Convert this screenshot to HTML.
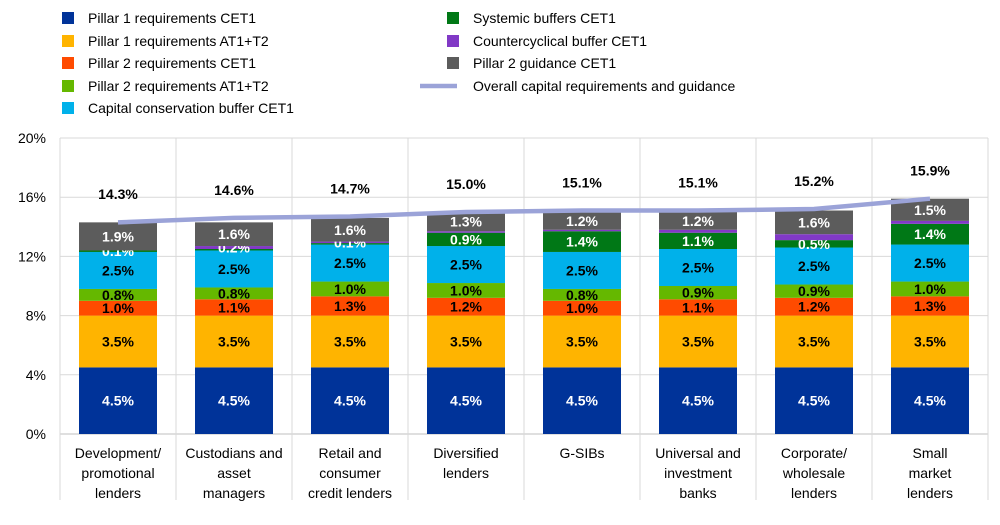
<!DOCTYPE html>
<html><head><meta charset="utf-8"><style>
body{margin:0;background:#fff;}
svg{display:block;font-family:"Liberation Sans",Arial,sans-serif;}
</style></head><body>
<svg id="chart" width="1000" height="525" viewBox="0 0 1000 525">
<g id="legend"></g>
<g id="grid"></g>
<g id="bars"></g>
<g id="line"></g>
<g id="axes"></g>
</svg>
<script>
const categories=[["Development/","promotional","lenders"],["Custodians and","asset","managers"],["Retail and","consumer","credit lenders"],["Diversified","lenders"],["G-SIBs"],["Universal and","investment","banks"],["Corporate/","wholesale","lenders"],["Small","market","lenders"]];
const seriesNames=["Pillar 1 requirements CET1","Pillar 1 requirements AT1+T2","Pillar 2 requirements CET1","Pillar 2 requirements AT1+T2","Capital conservation buffer CET1","Systemic buffers CET1","Countercyclical buffer CET1","Pillar 2 guidance CET1"];
const p1cet1=[4.5,4.5,4.5,4.5,4.5,4.5,4.5,4.5];
const p1at1=[3.5,3.5,3.5,3.5,3.5,3.5,3.5,3.5];
const p2cet1=[1.0,1.1,1.3,1.2,1.0,1.1,1.2,1.3];
const p2at1=[0.8,0.8,1.0,1.0,0.8,0.9,0.9,1.0];
const ccb=[2.5,2.5,2.5,2.5,2.5,2.5,2.5,2.5];
const systemic=[0.1,0.1,0.1,0.9,1.4,1.1,0.5,1.4];
const ccyb=[0.0,0.2,0.1,0.1,0.1,0.2,0.4,0.2];
const p2g=[1.9,1.6,1.6,1.3,1.2,1.2,1.6,1.5];
const overall=[14.3,14.6,14.7,15.0,15.1,15.1,15.2,15.9];
const showSystemic=[true,false,false,true,true,true,true,true];
const showCcyb=[false,true,true,false,false,false,false,false];
const yTicks=[0,4,8,12,16,20];
const series=[p1cet1,p1at1,p2cet1,p2at1,ccb,systemic,ccyb,p2g];
const colors=["#003399","#FFB400","#FF4B00","#65B800","#00B1EA","#007816","#8139C6","#5C5C5C"];
const txtColors=["#fff","#000","#000","#000","#000","#fff","#fff","#fff"];
const NS="http://www.w3.org/2000/svg";
const X0=60,X1=988,Y0=434,Y20=138;
const bw=(X1-X0)/categories.length;
const y=v=>Y0-(v/20)*(Y0-Y20);
const xc=i=>X0+bw*i+bw/2;
function mk(tag,attrs,parent,text){const e=document.createElementNS(NS,tag);for(const k in attrs)e.setAttribute(k,attrs[k]);if(text!==undefined)e.textContent=text;parent.appendChild(e);return e;}
const grid=document.getElementById('grid'),bars=document.getElementById('bars'),axes=document.getElementById('axes'),legend=document.getElementById('legend'),line=document.getElementById('line');
yTicks.forEach(t=>{
  const g=mk('line',{x1:X0,x2:X1,y1:y(t),y2:y(t),stroke:t===0?'#bfbfbf':'#d9d9d9','stroke-width':1},grid);
  
  
  const l=mk('text',{x:46,y:y(t)+5,'text-anchor':'end','font-size':14,fill:'#000'},axes,t+'%');
  
  
});
for(let i=0;i<=categories.length;i++){
  const v=mk('line',{x1:X0+bw*i,x2:X0+bw*i,y1:Y20,y2:500,stroke:'#d9d9d9','stroke-width':1},grid);
  
  
}
categories.forEach((c,i)=>{
  let base=0;const cx=xc(i);
  series.forEach((s,k)=>{
    const v=s[i];if(v<=0){return;}
    const r=mk('rect',{x:cx-39,width:78,y:y(base+v),height:y(base)-y(base+v),fill:colors[k]},bars);
    
    
    let show=true;
    if(k===5)show=showSystemic[i];
    if(k===6)show=showCcyb[i];
    if(show){
      const t=mk('text',{x:cx,y:(y(base)+y(base+v))/2+5,'text-anchor':'middle','font-size':14,'font-weight':'bold',fill:(k===5&&v<0.3)?'#fff':txtColors[k]},bars,v.toFixed(1)+'%');
      
      
    }
    base+=v;
  });
  const tl=mk('text',{x:cx,y:y(overall[i]+1.9)+5,'text-anchor':'middle','font-size':14,'font-weight':'bold',fill:'#000'},bars,overall[i].toFixed(1)+'%');
  
  
  c.forEach((ln,j)=>{
    const t=mk('text',{x:cx,y:458+j*20,'text-anchor':'middle','font-size':14,fill:'#000'},axes,ln);
    
    
  });
});
const pts=overall.map((v,i)=>(xc(i))+','+y(v)).join(' ');
const pl=mk('polyline',{points:pts,fill:'none',stroke:'#9BA3D8','stroke-width':4.5,'stroke-linejoin':'round'},line);


const legPos=[[62,18],[62,41],[62,63],[62,86],[62,108],[447,18],[447,41],[447,63]];
seriesNames.forEach((n,k)=>{
  const [lx,ly]=legPos[k];
  const r=mk('rect',{x:lx,y:ly-6,width:12,height:12,fill:colors[k]},legend);
  
  
  const t=mk('text',{x:lx+26,y:ly+5,'font-size':14,fill:'#000'},legend,n);
  
  
});
const ll=mk('line',{x1:420,x2:457,y1:86,y2:86,stroke:'#9BA3D8','stroke-width':4.5},legend);


const lt=mk('text',{x:473,y:91,'font-size':14,fill:'#000'},legend,'Overall capital requirements and guidance');


</script>
</body></html>
